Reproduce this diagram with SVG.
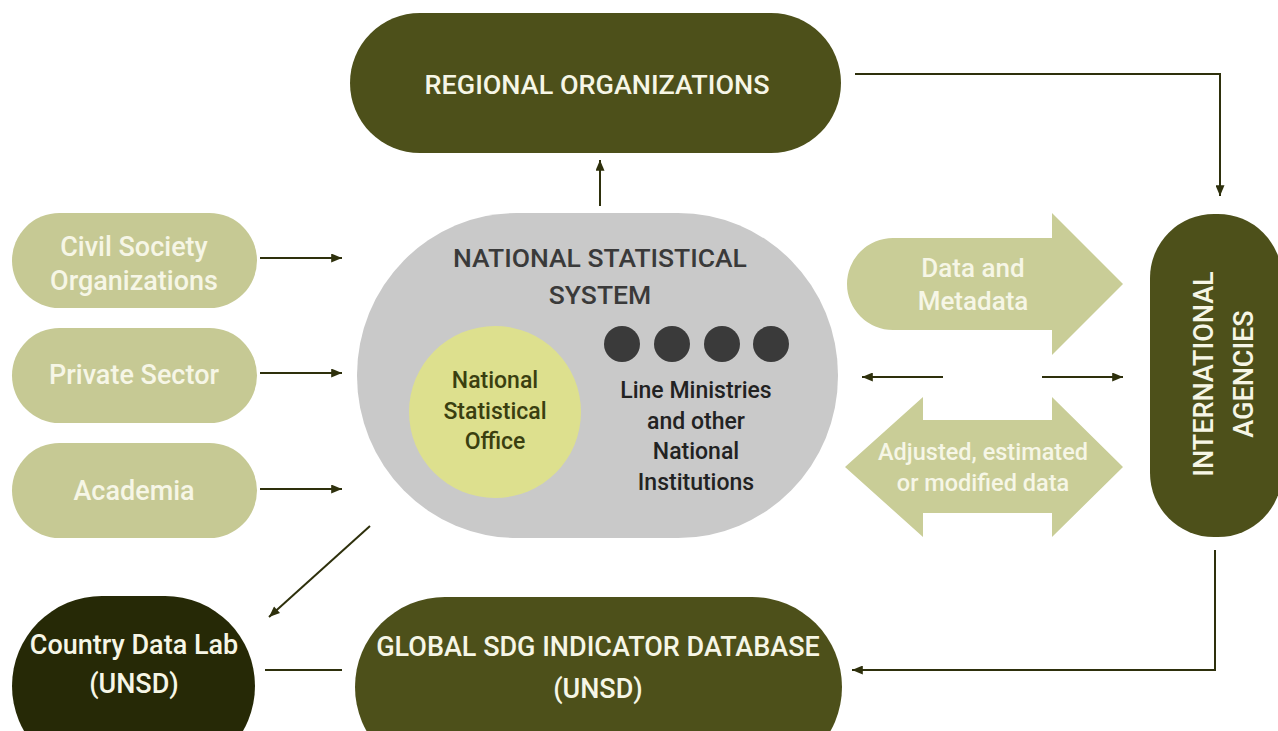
<svg xmlns="http://www.w3.org/2000/svg" width="1278" height="731" viewBox="0 0 1278 731">
<style>
.lt{fill:#c6c994}
.dk{fill:#4d501a}
.lbl{font-family:Roboto,"Liberation Sans",sans-serif;font-weight:500;text-anchor:middle}
.w{fill:#f6f6e6}
.c{stroke:#2e300c;stroke-width:2;fill:none}
</style>
<defs>
<marker id="ahb" viewBox="0 0 12 10" refX="12" refY="5" markerWidth="14" markerHeight="9" markerUnits="userSpaceOnUse" orient="auto">
<path d="M0,0 L12,5 L0,10 Z" fill="#2e300c"/>
</marker>
</defs>
<rect width="1278" height="731" fill="#ffffff"/>

<g id="regional">
<rect x="350" y="13" width="491" height="140" rx="70" class="dk"/>
<text x="597" y="94" class="lbl w" font-size="26" font-weight="700" textLength="345" lengthAdjust="spacingAndGlyphs">REGIONAL ORGANIZATIONS</text>
</g>

<g id="civil">
<rect x="12" y="213" width="245" height="95" rx="47.5" class="lt"/>
<text x="134" y="256" class="lbl w" font-size="27">Civil Society</text>
<text x="134" y="290" class="lbl w" font-size="27">Organizations</text>
</g>
<g id="private">
<rect x="12" y="328" width="245" height="95" rx="47.5" class="lt"/>
<text x="134" y="384" class="lbl w" font-size="27">Private Sector</text>
</g>
<g id="academia">
<rect x="12" y="443" width="245" height="95" rx="47.5" class="lt"/>
<text x="134" y="500" class="lbl w" font-size="27">Academia</text>
</g>

<g id="nss">
<rect x="357" y="213" width="481" height="325" rx="160" ry="162" fill="#c9c9c9"/>
<text x="600" y="267" class="lbl" font-size="26.5" font-weight="400" fill="#3a3a3a">NATIONAL STATISTICAL</text>
<text x="600" y="304" class="lbl" font-size="26.5" font-weight="400" fill="#3a3a3a">SYSTEM</text>
</g>
<g id="nso">
<circle cx="495" cy="412" r="86" fill="#dde08e"/>
<text x="495" y="388" class="lbl" font-size="23" fill="#3a3f10">National</text>
<text x="495" y="419" class="lbl" font-size="23" fill="#3a3f10">Statistical</text>
<text x="495" y="449" class="lbl" font-size="23" fill="#3a3f10">Office</text>
</g>
<g id="ministries">
<circle cx="622" cy="344" r="18" fill="#3a3a3a"/>
<circle cx="672" cy="344" r="18" fill="#3a3a3a"/>
<circle cx="722" cy="344" r="18" fill="#3a3a3a"/>
<circle cx="771" cy="344" r="18" fill="#3a3a3a"/>
<text x="696" y="398" class="lbl" font-size="23" fill="#222">Line Ministries</text>
<text x="696" y="429" class="lbl" font-size="23" fill="#222">and other</text>
<text x="696" y="459" class="lbl" font-size="23" fill="#222">National</text>
<text x="696" y="490" class="lbl" font-size="23" fill="#222">Institutions</text>
</g>

<g id="data-metadata">
<path d="M893,238 L1052,238 L1052,213 L1123,284 L1052,355 L1052,330 L893,330 A46,46 0 0 1 893,238 Z" fill="#c9cd97"/>
<text x="973" y="277" class="lbl w" font-size="26" font-weight="700">Data and</text>
<text x="973" y="310" class="lbl w" font-size="26" font-weight="700">Metadata</text>
</g>

<g id="adjusted">
<path d="M845,467 L923,397 L923,420 L1052,420 L1052,397 L1123,467 L1052,537 L1052,513 L923,513 L923,537 Z" fill="#c9cd97"/>
<text x="983" y="460" class="lbl w" font-size="23.5" font-weight="700">Adjusted, estimated</text>
<text x="983" y="491" class="lbl w" font-size="23.5" font-weight="700">or modified data</text>
</g>

<g id="international">
<rect x="1150" y="214" width="132" height="323" rx="64" class="dk"/>
<text transform="translate(1213,374) rotate(-90)" class="lbl w" font-size="27">INTERNATIONAL</text>
<text transform="translate(1253,374) rotate(-90)" class="lbl w" font-size="27">AGENCIES</text>
</g>

<g id="global-sdg">
<rect x="355" y="597" width="487" height="180" rx="90" class="dk"/>
<text x="598" y="656" class="lbl w" font-size="27" font-weight="700">GLOBAL SDG INDICATOR DATABASE</text>
<text x="598" y="698" class="lbl w" font-size="27" font-weight="700">(UNSD)</text>
</g>

<g id="country-lab">
<rect x="12" y="596" width="243" height="180" rx="90" fill="#262906"/>
<text x="134" y="654" class="lbl w" font-size="27">Country Data Lab</text>
<text x="134" y="693" class="lbl w" font-size="27">(UNSD)</text>
</g>

<g id="connectors">
<line x1="260" y1="258" x2="342" y2="258" class="c" marker-end="url(#ahb)"/>
<line x1="260" y1="373" x2="342" y2="373" class="c" marker-end="url(#ahb)"/>
<line x1="260" y1="489" x2="342" y2="489" class="c" marker-end="url(#ahb)"/>
<line x1="600" y1="206" x2="600" y2="160" class="c" marker-end="url(#ahb)"/>
<polyline points="855,74 1220,74 1220,196" class="c" marker-end="url(#ahb)"/>
<line x1="943" y1="377" x2="862" y2="377" class="c" marker-end="url(#ahb)"/>
<line x1="1042" y1="377" x2="1123" y2="377" class="c" marker-end="url(#ahb)"/>
<polyline points="1215,550 1215,670 852,670" class="c" marker-end="url(#ahb)"/>
<line x1="342" y1="670" x2="265" y2="670" class="c"/>
<line x1="370" y1="526" x2="269" y2="617" class="c" marker-end="url(#ahb)"/>
</g>
</svg>
